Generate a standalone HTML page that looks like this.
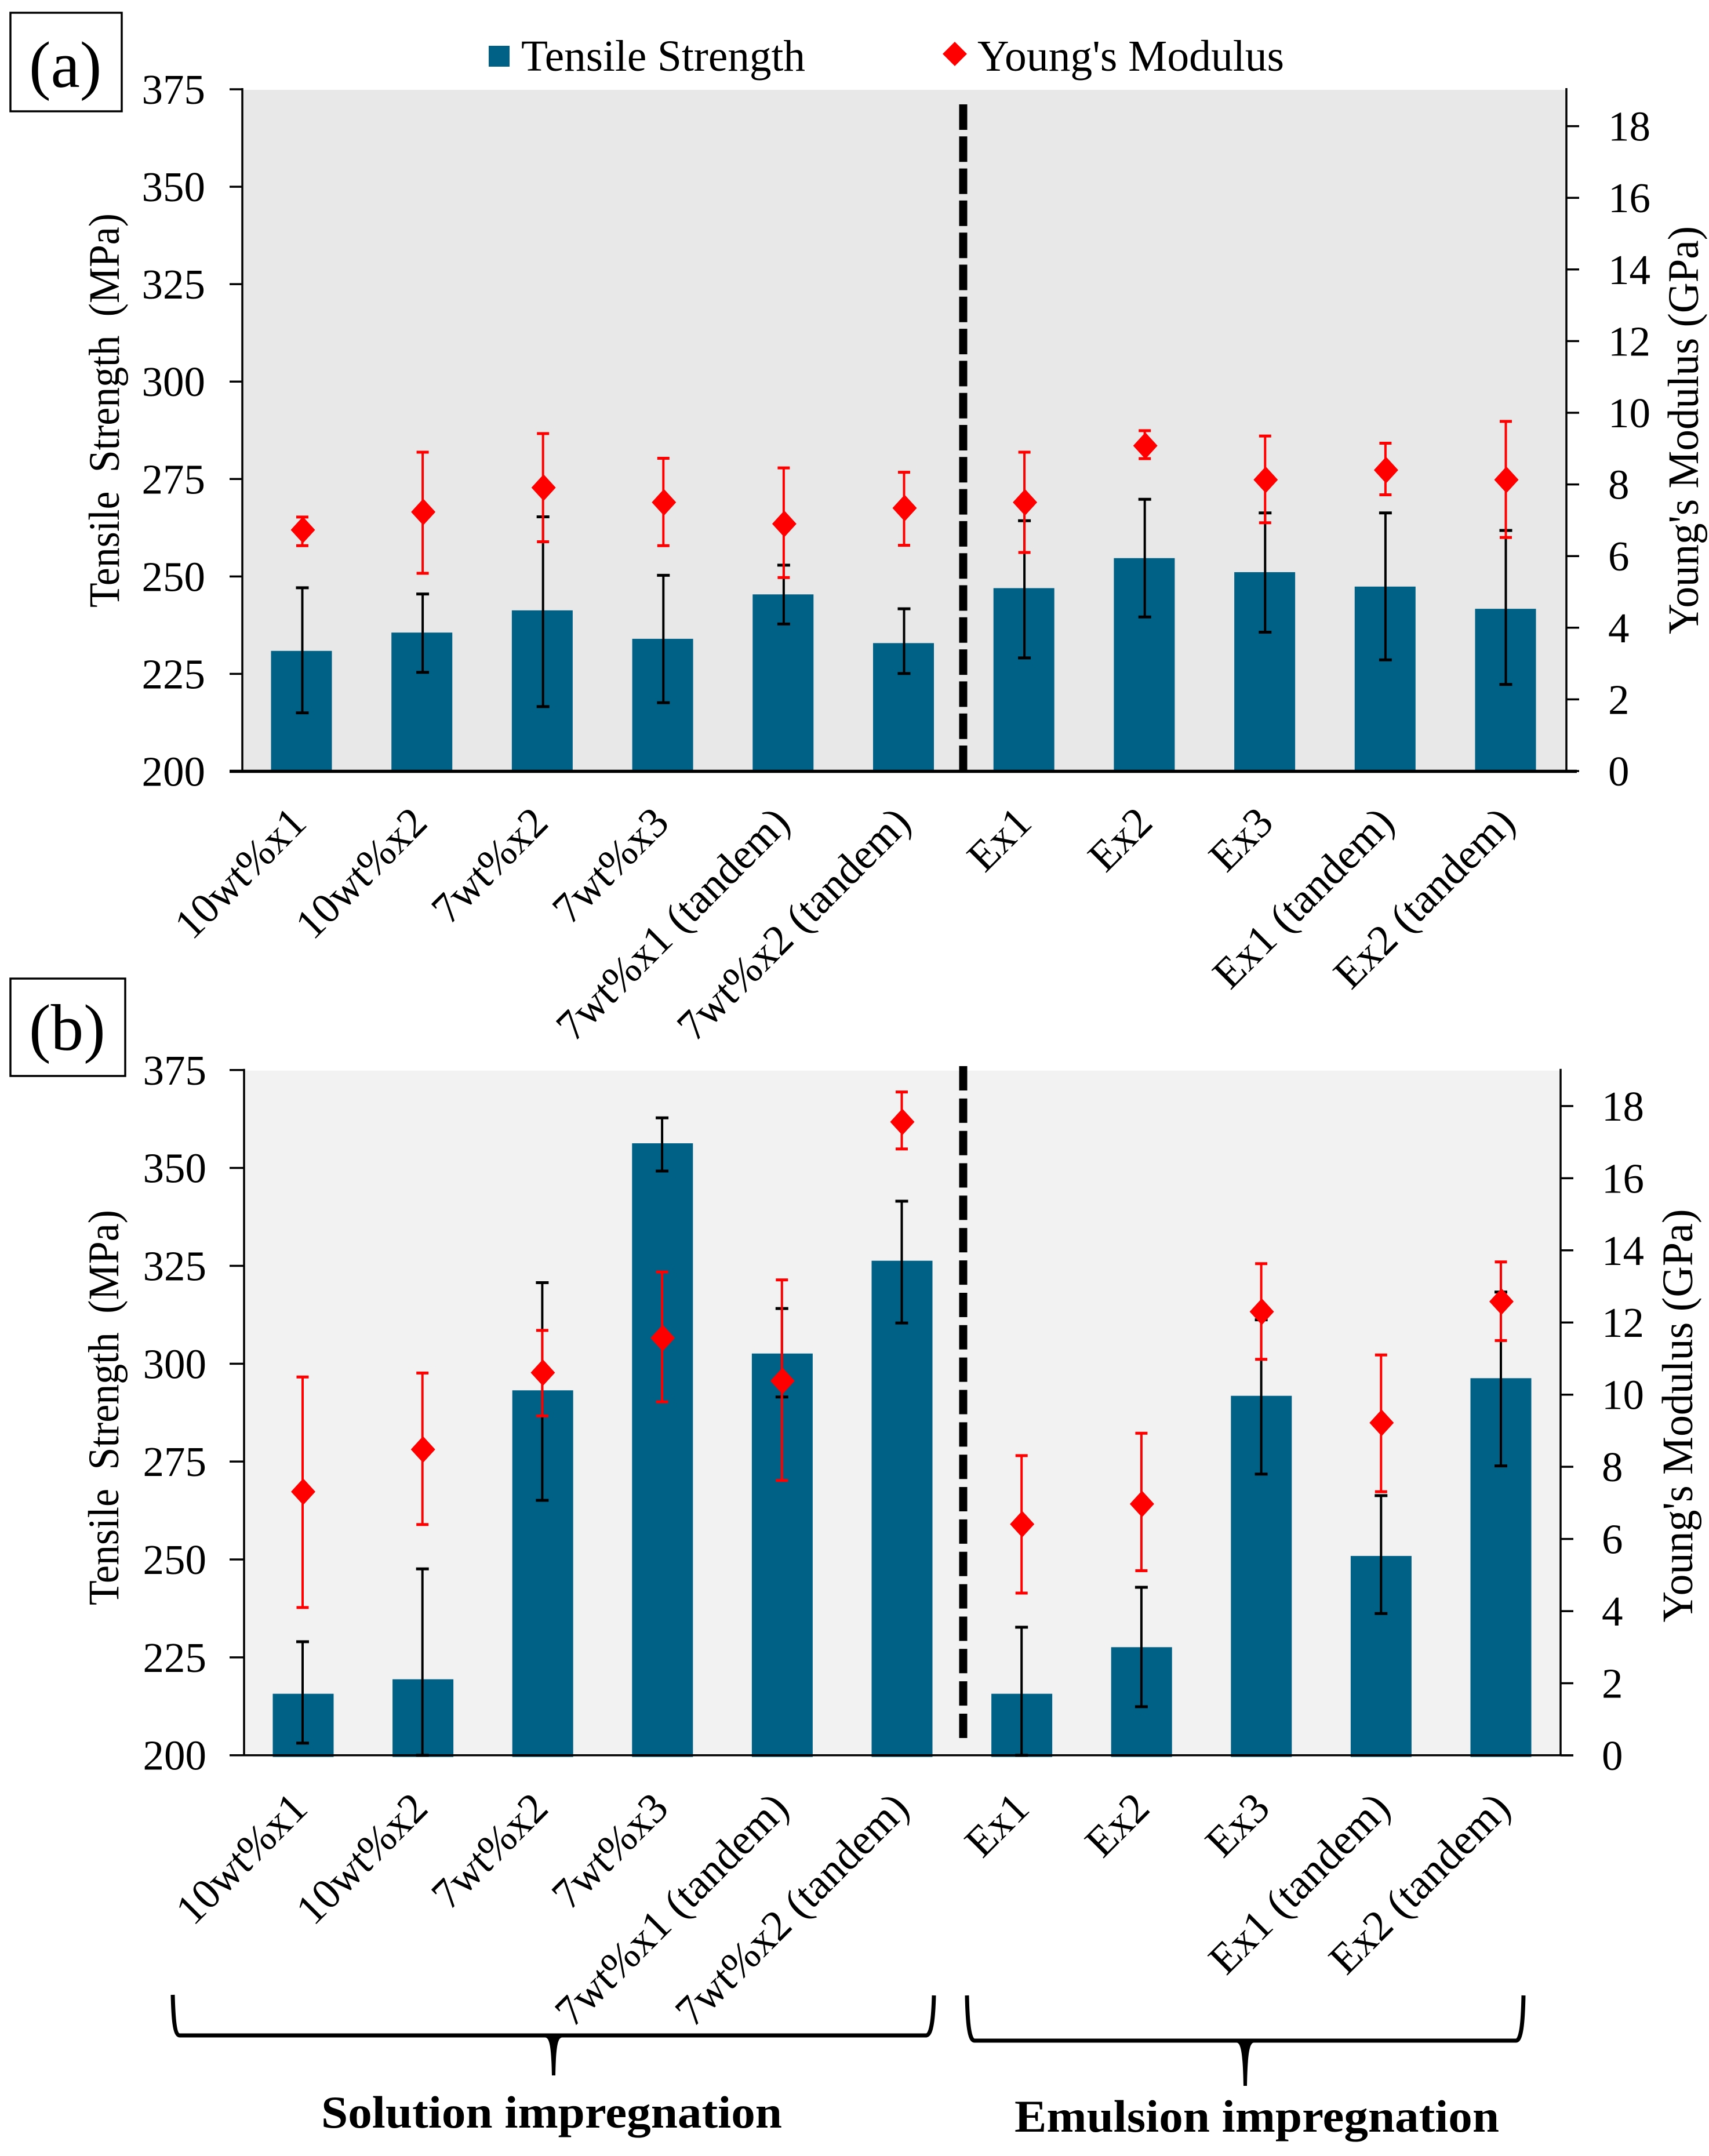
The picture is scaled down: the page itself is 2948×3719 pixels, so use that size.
<!DOCTYPE html>
<html lang="en">
<head>
<meta charset="utf-8">
<title>Tensile Strength and Young's Modulus</title>
<style>
html,body{margin:0;padding:0;background:#fff}
svg{display:block}
text{font-family:"Liberation Serif",serif;fill:#000}
</style>
</head>
<body>
<svg id="figure" xmlns="http://www.w3.org/2000/svg" width="2948" height="3719" viewBox="0 0 2948 3719">
  <rect x="0" y="0" width="2948" height="3719" fill="#fff"/>

  <g>
    <rect x="843" y="79" width="36" height="36" fill="#006186"/>
    <text x="899" y="122" font-size="76" textLength="490" lengthAdjust="spacingAndGlyphs">Tensile Strength</text>
    <polygon points="1647,72 1668,93 1647,114 1626,93" fill="#ff0000"/>
    <text x="1686" y="122" font-size="76" textLength="529" lengthAdjust="spacingAndGlyphs">Young's Modulus</text>
  </g>

  <g>
    <rect x="18" y="22" width="192" height="170" fill="#fff" stroke="#000" stroke-width="3.5"/>
    <text x="50" y="150" font-size="113">(a)</text>
  </g>
  <g>
    <rect x="18" y="1688" width="198" height="168" fill="#fff" stroke="#000" stroke-width="3.5"/>
    <text x="50" y="1811" font-size="113">(b)</text>
  </g>

  <g id="panel-a"></g>
  <g id="panel-b"></g>

  <g>
    <path d="M298,3441 C299,3480 301,3511 310,3511 L945,3511 M965,3511 L1598,3511 C1607,3510 1610,3480 1611,3442" fill="none" stroke="#000" stroke-width="7"/>
    <path d="M940,3507.5 L970,3507.5 L970,3514.5 C962,3514.5 959,3530 958,3580 L952,3580 C951,3530 948,3514.5 940,3514.5 Z" fill="#000"/>
  </g>
  <g>
    <path d="M1668,3442 C1669,3490 1672,3520 1681,3520 L2138,3520 M2158,3520 L2615,3520 C2624,3520 2627,3490 2628,3442" fill="none" stroke="#000" stroke-width="7"/>
    <path d="M2133,3516.5 L2163,3516.5 L2163,3523.5 C2155,3523.5 2152,3545 2151,3598 L2145,3598 C2144,3545 2141,3523.5 2133,3523.5 Z" fill="#000"/>
  </g>
  <text x="554" y="3670" font-size="78" font-weight="bold" textLength="795" lengthAdjust="spacingAndGlyphs">Solution impregnation</text>
  <text x="1750" y="3677" font-size="78" font-weight="bold" textLength="836" lengthAdjust="spacingAndGlyphs">Emulsion impregnation</text>
</svg>

<script>
var categories = ["10wt%x1","10wt%x2","7wt%x2","7wt%x3","7wt%x1 (tandem)","7wt%x2 (tandem)","Ex1","Ex2","Ex3","Ex1 (tandem)","Ex2 (tandem)"];
var leftTicks = [200,225,250,275,300,325,350,375];
var rightTicks = [0,2,4,6,8,10,12,14,16,18];

var tensileA    = [230.9,235.6,241.3,234.0,245.4,232.9,247.0,254.7,251.1,247.4,241.7];
var tensileHiA  = [247.1,245.5,265.3,250.3,252.9,241.7,264.3,269.8,266.3,266.3,261.8];
var tensileLoA  = [215.0,225.4,216.6,217.6,237.8,225.1,229.1,239.6,235.7,228.6,222.3];
var modulusA    = [6.73,7.23,7.91,7.50,6.90,7.34,7.50,9.08,8.13,8.40,8.13];
var modulusHiA  = [7.09,8.90,9.42,8.73,8.46,8.34,8.90,9.50,9.35,9.15,9.76];
var modulusLoA  = [6.29,5.52,6.40,6.29,5.40,6.30,6.10,8.72,6.93,7.71,6.52];

var tensileB    = [215.7,219.4,293.2,356.3,302.6,326.3,215.7,227.6,291.8,250.9,296.3];
var tensileHiB  = [229.0,247.6,320.7,362.8,314.1,341.5,232.7,242.9,311.2,266.3,318.3];
var tensileLoB  = [203.1,200.0,265.1,349.2,291.5,310.4,200.0,212.4,271.8,236.2,273.9];
var modulusB    = [7.31,8.48,10.61,11.57,10.38,17.56,6.41,6.97,12.30,9.22,12.58];
var modulusHiB  = [10.49,10.60,11.78,13.40,13.18,18.39,8.31,8.93,13.63,11.10,13.68];
var modulusLoB  = [4.10,6.40,9.41,9.80,7.62,16.81,4.50,5.12,10.98,7.31,11.50];

var SVGNS = "http://www.w3.org/2000/svg";
function make(tag, attrs, parent, txt) {
  var n = document.createElementNS(SVGNS, tag);
  for (var k in attrs) n.setAttribute(k, attrs[k]);
  if (txt !== undefined) n.textContent = txt;
  parent.appendChild(n);
  return n;
}

function drawPanel(cfg) {
  var root = document.getElementById(cfg.id);
  var yL = function (v) { return cfg.y0 - (v - 200) * (cfg.y0 - cfg.yTop) / 175; };
  var yR = function (v) { return cfg.y0R - v * cfg.rScale; };
  var xBar = function (i) { return cfg.barX0 + i * cfg.barStep; };
  var xMark = function (i) { return cfg.markX0 + i * cfg.markStep; };
  var xLabel = function (i) { return cfg.labelX0 + i * cfg.labelStep; };
  var el;

  el = make("rect", {x: cfg.xL, y: cfg.yTop + 1, width: cfg.xR - cfg.xL, height: cfg.y0 - cfg.yTop - 1, fill: cfg.bg}, root);
  
  

  categories.forEach(function (c, i) {
    var top = yL(cfg.tensile[i]);
    var bar = make("rect", {x: xBar(i) - cfg.barW / 2, y: top, width: cfg.barW, height: cfg.y0 + cfg.overhang - top, fill: "#006186"}, root);
    
    
  });

  el = make("line", {x1: cfg.dashX, x2: cfg.dashX, y1: cfg.dashTop, y2: cfg.dashBottom, stroke: "#000", "stroke-width": 14, "stroke-dasharray": cfg.dash}, root);
  
  

  function errorBar(x, y1, y2, color, capW, name) {
    var g = make("g", {stroke: color, "stroke-width": 4, fill: "none"}, root);
    
    
    make("line", {x1: x, x2: x, y1: y1, y2: y2}, g);
    make("line", {x1: x - capW / 2, x2: x + capW / 2, y1: y1, y2: y1, "stroke-width": 5}, g);
    make("line", {x1: x - capW / 2, x2: x + capW / 2, y1: y2, y2: y2, "stroke-width": 5}, g);
  }

  categories.forEach(function (c, i) {
    errorBar(xMark(i), yL(cfg.tensileHi[i]), yL(cfg.tensileLo[i]), "#000", 22, 'tensile-error-bar');
  });
  categories.forEach(function (c, i) {
    errorBar(xMark(i), yR(cfg.modulusHi[i]), yR(cfg.modulusLo[i]), "#ff0000", 21, 'modulus-error-bar');
  });
  categories.forEach(function (c, i) {
    var mx = xMark(i) + 1, my = yR(cfg.modulus[i]);
    var pts = [mx, my - 23, mx + 21, my, mx, my + 23, mx - 21, my].join(" ");
    var d = make("polygon", {points: pts, fill: "#ff0000"}, root);
    
    
  });

  el = make("line", {x1: cfg.xL, x2: cfg.xL, y1: cfg.yTop - 2, y2: cfg.y0, stroke: "#000", "stroke-width": 3.5}, root);
  
  
  el = make("line", {x1: cfg.xR, x2: cfg.xR, y1: cfg.yTop - 2, y2: cfg.y0, stroke: "#000", "stroke-width": 3.5}, root);
  
  
  el = make("line", {x1: 396, x2: cfg.xR + cfg.axisExt, y1: cfg.y0, y2: cfg.y0, stroke: "#000", "stroke-width": cfg.baseW}, root);
  
  

  leftTicks.forEach(function (v) {
    var y = yL(v);
    var t = make("line", {x1: 396, x2: cfg.xL, y1: y, y2: y, stroke: "#000", "stroke-width": 3.5}, root);
    
    
    var l = make("text", {x: cfg.leftLabelX, y: y + 25, "font-size": 73, "text-anchor": "end"}, root, String(v));
    
    
  });
  rightTicks.forEach(function (v) {
    var y = yR(v);
    var t = make("line", {x1: cfg.xR, x2: cfg.xR + 22, y1: y, y2: y, stroke: "#000", "stroke-width": 3.5}, root);
    
    
    var l = make("text", {x: cfg.rightLabelX, y: y + 25, "font-size": 73}, root, String(v));
    
    
  });

  categories.forEach(function (c, i) {
    var ex = xLabel(i), ey = cfg.labelY;
    var l = make("text", {x: ex, y: ey, "font-size": 74, "text-anchor": "end", transform: "rotate(-45 " + ex + " " + ey + ")"}, root, c);
    
    
  });

  var a = make("text", {x: cfg.titleLX, y: cfg.titleLY, "font-size": 75, "word-spacing": 16, "text-anchor": "middle", textLength: cfg.titleLLen, lengthAdjust: "spacingAndGlyphs", transform: "rotate(-90 " + cfg.titleLX + " " + cfg.titleLY + ")"}, root, "Tensile Strength (MPa)");
  
  
  var b = make("text", {x: cfg.titleRX, y: cfg.titleRY, "font-size": 75, "text-anchor": "middle", textLength: cfg.titleRLen, lengthAdjust: "spacingAndGlyphs", transform: "rotate(-90 " + cfg.titleRX + " " + cfg.titleRY + ")"}, root, "Young's Modulus (GPa)");
  
  
}

drawPanel({
  id: "panel-a", bg: "#e8e8e8", xL: 418, xR: 2702, yTop: 154, y0: 1330.5, y0R: 1330, rScale: 61.8,
  barX0: 520, barStep: 207.7, barW: 105, markX0: 521.5, markStep: 207.6, overhang: 0, baseW: 5.5, axisExt: 18,
  dashX: 1661.5, dashTop: 180, dashBottom: 1330, dash: "44 11.3",
  leftLabelX: 354, rightLabelX: 2774, labelX0: 532, labelStep: 208.5, labelY: 1423,
  titleLX: 205, titleLY: 708, titleLLen: 680, titleRX: 2929, titleRY: 742, titleRLen: 704,
  tensile: tensileA, tensileHi: tensileHiA, tensileLo: tensileLoA,
  modulus: modulusA, modulusHi: modulusHiA, modulusLo: modulusLoA
});
drawPanel({
  id: "panel-b", bg: "#f2f2f2", xL: 421, xR: 2692, yTop: 1845.8, y0: 3027.7, y0R: 3028, rScale: 62.23,
  barX0: 523, barStep: 206.6, barW: 105, markX0: 522, markStep: 206.7, overhang: 3, baseW: 3.5, axisExt: 22,
  dashX: 1661.5, dashTop: 1839, dashBottom: 2998, dash: "42 13.85",
  leftLabelX: 356, rightLabelX: 2763, labelX0: 534, labelStep: 207.5, labelY: 3123,
  titleLX: 204, titleLY: 2428, titleLLen: 682, titleRX: 2919, titleRY: 2442, titleRLen: 713,
  tensile: tensileB, tensileHi: tensileHiB, tensileLo: tensileLoB,
  modulus: modulusB, modulusHi: modulusHiB, modulusLo: modulusLoB
});
</script>
</body>
</html>
